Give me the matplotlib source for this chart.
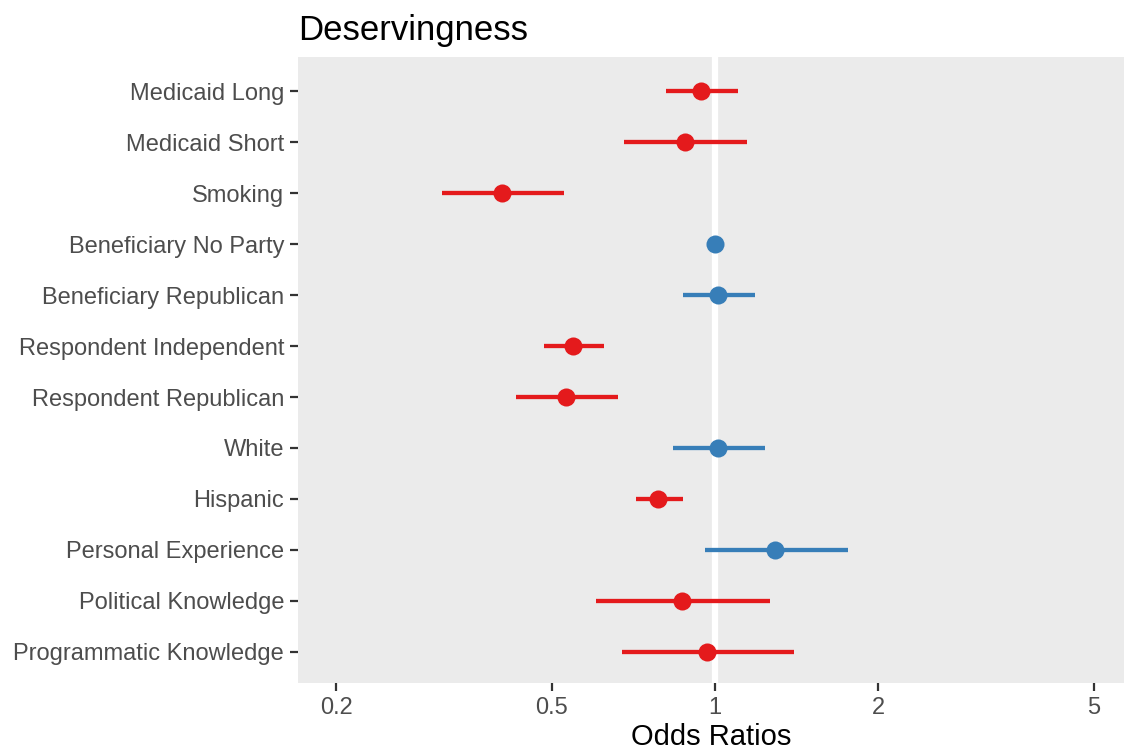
import numpy as np
import matplotlib
matplotlib.use("Agg")
import matplotlib.pyplot as plt
from matplotlib.ticker import FixedLocator, NullLocator

plt.rcParams['font.family'] = ['Liberation Sans', 'DejaVu Sans']

# coefficient table, top row first
terms = ["Medicaid Long", "Medicaid Short", "Smoking", "Beneficiary No Party",
         "Beneficiary Republican", "Respondent Independent", "Respondent Republican",
         "White", "Hispanic", "Personal Experience", "Political Knowledge",
         "Programmatic Knowledge"]
odds = [0.942, 0.880, 0.404, 1.0, 1.013, 0.547, 0.531, 1.013, 0.785, 1.291, 0.869, 0.966]
lower = [0.812, 0.679, 0.313, 1.0, 0.873, 0.483, 0.429, 0.836, 0.715, 0.958, 0.603, 0.673]
upper = [1.103, 1.146, 0.526, 1.0, 1.185, 0.624, 0.662, 1.237, 0.873, 1.760, 1.263, 1.399]
significant = [True, True, True, False, False, True, True, False, True, False, True, True]

x_ticks = [0.2, 0.5, 1, 2, 5]
x_tick_labels = ["0.2", "0.5", "1", "2", "5"]

red = "#E41A1C"
blue = "#377EB8"

fig = plt.figure(figsize=(11.24, 7.51), dpi=100)
ax = fig.add_axes([298 / 1124, 1 - 683 / 751, (1124 - 298) / 1124, (683 - 57) / 751])
ax.set_facecolor("#EBEBEB")

ax.set_xscale("log")
ax.axvline(1, color="white", lw=4.5, zorder=1)

n = len(terms)
ypos = np.arange(n)[::-1]
for y, est, lo, hi, sig in zip(ypos, odds, lower, upper, significant):
    c = red if sig else blue
    ax.plot([lo, hi], [y, y], color=c, lw=3.1, solid_capstyle="butt", zorder=2)
    ax.plot(est, y, "o", color=c, markersize=13, markeredgewidth=0, zorder=3)

ax.set_xlim(0.170, 5.69)
ax.set_ylim(-0.61, n - 0.33)
ax.xaxis.set_major_locator(FixedLocator(x_ticks))
ax.xaxis.set_minor_locator(NullLocator())
ax.set_xticklabels(x_tick_labels)
ax.set_yticks(ypos)
ax.set_yticklabels(terms)

for s in ax.spines.values():
    s.set_visible(False)
ax.tick_params(axis="both", colors="#333333", length=6, width=1.6,
               labelsize=17, labelcolor="#4D4D4D", pad=4)

ax.set_xlabel("Odds Ratios", fontsize=21, color="black", labelpad=3)
ax.set_title("Deservingness", fontsize=25, loc="left", pad=12)

fig.savefig("out.png", dpi=100)
